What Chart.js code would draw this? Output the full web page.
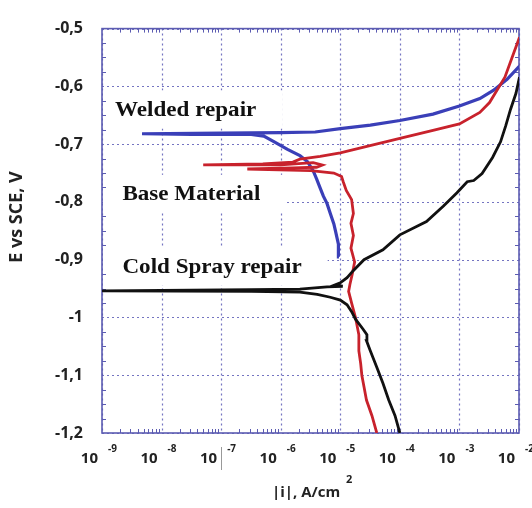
<!DOCTYPE html>
<html>
<head>
<meta charset="utf-8">
<script src="https://cdn.jsdelivr.net/npm/chart.js@4.4.1/dist/chart.umd.min.js"></script>
<style>
  html, body { margin: 0; padding: 0; background: #fff; }
  #wrap { width: 532px; height: 508px; }
</style>
</head>
<body>
<div id="wrap"><canvas id="tafel" width="532" height="508"></canvas></div>
<script>
// current density |i| (A/cm2) and potential E (V vs SCE)
const weldedI = [9.5e-6, 9.3e-6, 8.3e-6, 7.8e-6, 6.8e-6, 6.0e-6, 5.2e-6, 4.6e-6, 4.0e-6, 3.5e-6,
  2.8e-6, 2.1e-6, 1.3e-6, 7.8e-7, 5.2e-7, 3.2e-7, 3.2e-8, 4.7e-9, 1e-7, 1e-6,
  3.8e-6, 1e-5, 3.2e-5, 1e-4, 3.6e-4, 1e-3, 2.2e-3, 3.7e-3, 6.3e-3, 1.02e-2];
const weldedE = [-0.895, -0.873, -0.850, -0.838, -0.820, -0.803, -0.790, -0.776, -0.760, -0.746,
  -0.730, -0.720, -0.709, -0.696, -0.686, -0.683, -0.683, -0.682, -0.681, -0.680,
  -0.679, -0.673, -0.667, -0.659, -0.648, -0.634, -0.621, -0.607, -0.588, -0.565];

const baseI = [4.1e-5, 3.4e-5, 2.75e-5, 2.5e-5, 2.3e-5, 2.2e-5, 2.05e-5, 2.05e-5, 1.8e-5, 1.55e-5,
  1.38e-5, 1.45e-5, 1.58e-5, 1.74e-5, 1.51e-5, 1.66e-5, 1.51e-5, 1.66e-5, 1.55e-5, 1.26e-5,
  1.12e-5, 1.05e-5, 7.8e-6, 3.2e-6, 2.75e-7, 1.6e-6, 4.0e-6, 5.0e-6, 3.5e-6, 1e-6,
  5e-8, 5e-7, 1.6e-6, 2.1e-6, 4.6e-6, 1e-5, 2.8e-5, 1e-4, 3.6e-4, 1e-3,
  2.2e-3, 3.2e-3, 4.5e-3, 5.8e-3, 7.9e-3, 1.02e-2];
const baseE = [-1.200, -1.170, -1.143, -1.120, -1.100, -1.080, -1.058, -1.030, -1.000, -0.975,
  -0.955, -0.943, -0.926, -0.904, -0.880, -0.858, -0.837, -0.820, -0.796, -0.780,
  -0.765, -0.756, -0.750, -0.746, -0.743, -0.741, -0.740, -0.736, -0.732, -0.736,
  -0.736, -0.734, -0.731, -0.726, -0.721, -0.715, -0.704, -0.690, -0.676, -0.665,
  -0.645, -0.628, -0.603, -0.584, -0.546, -0.515];

const coldI = [1e-4, 8.3e-5, 6.5e-5, 5.2e-5, 4.1e-5, 3.2e-5, 2.75e-5, 2.8e-5, 2.4e-5, 1.8e-5,
  1.55e-5, 1.3e-5, 1e-5, 6.8e-6, 4.1e-6, 2.1e-6, 3.2e-7, 8e-10, 3.2e-7, 2.1e-6,
  6e-6, 1.1e-5, 8e-6, 1e-5, 1.3e-5, 1.65e-5, 2.5e-5, 5.2e-5, 1e-4, 2.8e-4,
  5.4e-4, 9.1e-4, 1.35e-3, 1.74e-3, 2.4e-3, 3.6e-3, 4.9e-3, 6e-3, 7.2e-3, 8.9e-3,
  1.02e-2];
const coldE = [-1.200, -1.170, -1.143, -1.114, -1.086, -1.058, -1.040, -1.030, -1.020, -1.003,
  -0.990, -0.978, -0.970, -0.965, -0.960, -0.956, -0.955, -0.954, -0.952, -0.951,
  -0.947, -0.946, -0.944, -0.940, -0.931, -0.919, -0.900, -0.883, -0.857, -0.834,
  -0.807, -0.784, -0.765, -0.763, -0.751, -0.723, -0.696, -0.668, -0.640, -0.612,
  -0.584];

// axes
const xTicks = [1e-9, 1e-8, 1e-7, 1e-6, 1e-5, 1e-4, 1e-3, 1e-2];
const xTickExp = ['-9', '-8', '-7', '-6', '-5', '-4', '-3', '-2'];
const yTicks = [-1.2, -1.1, -1.0, -0.9, -0.8, -0.7, -0.6, -0.5];

// curve labels, anchored at data coordinates (left edge, vertical middle)
const curveLabels = [
  {text: 'Welded repair', x: 1.65e-9, y: -0.640},
  {text: 'Base Material', x: 2.2e-9, y: -0.786},
  {text: 'Cold Spray repair', x: 2.2e-9, y: -0.912}
];

const frameColor = '#5c5cb2';
const gridColor = 'rgba(92, 92, 182, 0.85)';
const textColor = '#222';

function toPoints(xs, ys) {
  return xs.map((v, i) => ({x: v, y: ys[i]}));
}

const backdrop = {
  id: 'backdrop',
  beforeDatasetsDraw(chart) {
    const {ctx, chartArea: a, scales: {x, y}} = chart;
    ctx.save();

    // dotted grid
    ctx.strokeStyle = gridColor;
    ctx.lineWidth = 1.2;
    ctx.setLineDash([2, 3]);
    xTicks.forEach(v => {
      const px = Math.round(x.getPixelForValue(v)) + 0.5;
      ctx.beginPath(); ctx.moveTo(px, a.top); ctx.lineTo(px, a.bottom); ctx.stroke();
    });
    yTicks.forEach(v => {
      const py = Math.round(y.getPixelForValue(v)) + 0.5;
      ctx.beginPath(); ctx.moveTo(a.left, py); ctx.lineTo(a.right, py); ctx.stroke();
    });
    ctx.setLineDash([]);

    // curve labels on white patches (slightly stretched serif)
    ctx.font = 'bold 21px "Liberation Serif", "Times New Roman", serif';
    ctx.textBaseline = 'middle';
    curveLabels.forEach(l => {
      const px = x.getPixelForValue(l.x);
      const py = y.getPixelForValue(l.y);
      const w = ctx.measureText(l.text).width * 1.1;
      ctx.fillStyle = '#fff';
      ctx.fillRect(a.left + 1, py - 19, px + w + 25 - a.left, 38);
      ctx.save();
      ctx.translate(px, py + 1);
      ctx.scale(1.1, 1);
      ctx.fillStyle = '#111';
      ctx.fillText(l.text, 0, 0);
      ctx.restore();
    });

    // minor ticks, pointing inwards
    ctx.strokeStyle = frameColor;
    ctx.lineWidth = 1;
    for (let d = 0; d < xTicks.length - 1; d++) {
      for (let m = 2; m <= 9; m++) {
        const px = Math.round(x.getPixelForValue(m * xTicks[d])) + 0.5;
        ctx.beginPath();
        ctx.moveTo(px, a.bottom); ctx.lineTo(px, a.bottom - 4);
        ctx.moveTo(px, a.top); ctx.lineTo(px, a.top + 4);
        ctx.stroke();
      }
    }
    for (let k = 0; k < 28; k++) {
      if (k % 4 === 0) continue;
      const py = Math.round(y.getPixelForValue(-1.2 + k * 0.025)) + 0.5;
      ctx.beginPath();
      ctx.moveTo(a.left, py); ctx.lineTo(a.left + 4, py);
      ctx.moveTo(a.right, py); ctx.lineTo(a.right - 4, py);
      ctx.stroke();
    }

    // frame
    ctx.lineWidth = 1.6;
    ctx.strokeRect(a.left, a.top, a.right - a.left, a.bottom - a.top);

    // x tick labels: 10 with a raised exponent
    ctx.fillStyle = textColor;
    ctx.textBaseline = 'alphabetic';
    xTicks.forEach((v, i) => {
      const px = x.getPixelForValue(v);
      ctx.font = 'bold 15px "Open Sans", sans-serif';
      ctx.textAlign = 'right';
      ctx.fillText('10', px - 4, a.bottom + 30);
      ctx.font = 'bold 10px "Open Sans", sans-serif';
      ctx.textAlign = 'left';
      ctx.fillText(xTickExp[i], px + 6, a.bottom + 19);
    });
    // stray cursor mark next to 10^-7
    const p7 = Math.round(x.getPixelForValue(1e-7)) + 0.5;
    ctx.strokeStyle = '#999';
    ctx.lineWidth = 1;
    ctx.beginPath(); ctx.moveTo(p7, a.bottom + 14); ctx.lineTo(p7, a.bottom + 37); ctx.stroke();

    // x title
    ctx.font = 'bold 15px "Open Sans", sans-serif';
    ctx.textAlign = 'left';
    ctx.fillText('|i|, A/cm', 272, a.bottom + 64);
    ctx.font = 'bold 11px "Open Sans", sans-serif';
    ctx.fillText('2', 346, a.bottom + 50);

    // y title
    ctx.save();
    ctx.translate(17, 217);
    ctx.rotate(-Math.PI / 2);
    ctx.font = 'bold 18px "Open Sans", sans-serif';
    ctx.textAlign = 'center';
    ctx.textBaseline = 'middle';
    ctx.fillText('E vs SCE, V', 0, 0);
    ctx.restore();

    ctx.restore();
  }
};

new Chart(document.getElementById('tafel'), {
  type: 'scatter',
  data: {
    datasets: [
      {label: 'Cold Spray repair', data: toPoints(coldI, coldE), borderColor: '#111', borderWidth: 2.8},
      {label: 'Base Material', data: toPoints(baseI, baseE), borderColor: '#c8222c', borderWidth: 2.8},
      {label: 'Welded repair', data: toPoints(weldedI, weldedE), borderColor: '#3a3fb8', borderWidth: 3.2}
    ].map(ds => Object.assign(ds, {showLine: true, pointRadius: 0, tension: 0, fill: false}))
  },
  options: {
    responsive: false,
    animation: false,
    layout: {padding: {top: 17, right: 13, left: 0, bottom: 0}},
    plugins: {legend: {display: false}, tooltip: {enabled: false}},
    scales: {
      x: {
        type: 'logarithmic',
        min: 1e-9,
        max: 1e-2,
        grid: {display: false},
        border: {display: false},
        ticks: {display: false},
        afterFit: scale => { scale.height = 75; }
      },
      y: {
        min: -1.2,
        max: -0.5,
        grid: {display: false, drawTicks: false},
        border: {display: false},
        ticks: {
          stepSize: 0.1,
          padding: 19,
          color: textColor,
          font: {family: '"Open Sans", sans-serif', size: 16, weight: 'bold'},
          callback: v => String(Math.round(v * 10) / 10).replace('.', ',')
        },
        afterFit: scale => { scale.width = 102; }
      }
    }
  },
  plugins: [backdrop]
});
</script>
</body>
</html>
